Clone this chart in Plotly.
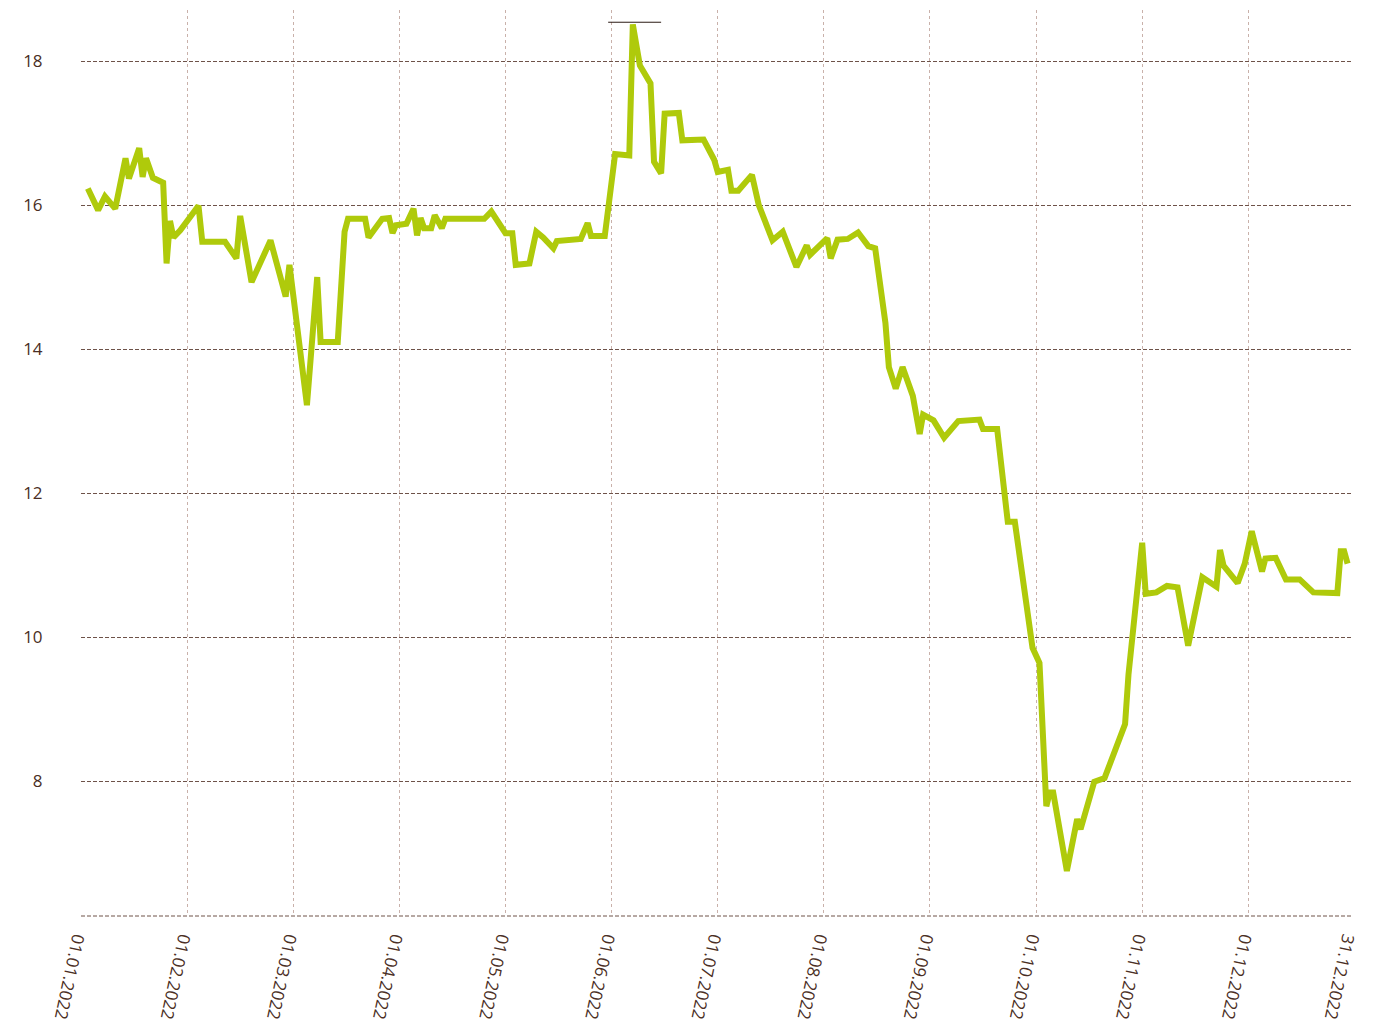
import calendar
import plotly.graph_objects as go

# ---- data ----
dates = [
    "2022-01-03", "2022-01-06", "2022-01-08", "2022-01-11", "2022-01-14", "2022-01-15",
    "2022-01-18", "2022-01-19", "2022-01-20", "2022-01-22", "2022-01-25", "2022-01-26",
    "2022-01-27", "2022-01-28", "2022-01-30",
    "2022-02-04", "2022-02-05", "2022-02-11", "2022-02-14", "2022-02-15", "2022-02-18",
    "2022-02-20", "2022-02-23", "2022-02-27", "2022-02-28",
    "2022-03-01", "2022-03-05", "2022-03-08", "2022-03-09", "2022-03-14", "2022-03-16",
    "2022-03-17", "2022-03-22", "2022-03-23", "2022-03-27", "2022-03-29", "2022-03-30",
    "2022-03-31",
    "2022-04-03", "2022-04-05", "2022-04-06", "2022-04-07", "2022-04-08", "2022-04-10",
    "2022-04-11", "2022-04-13", "2022-04-14", "2022-04-25", "2022-04-27",
    "2022-05-01", "2022-05-03", "2022-05-04", "2022-05-08", "2022-05-10", "2022-05-12",
    "2022-05-15", "2022-05-16", "2022-05-23", "2022-05-25", "2022-05-26", "2022-05-30",
    "2022-06-02", "2022-06-06", "2022-06-07", "2022-06-09", "2022-06-12", "2022-06-13",
    "2022-06-15", "2022-06-16", "2022-06-20", "2022-06-21", "2022-06-27", "2022-06-29",
    "2022-06-30",
    "2022-07-01", "2022-07-04", "2022-07-05", "2022-07-07", "2022-07-11", "2022-07-13",
    "2022-07-17", "2022-07-20", "2022-07-24", "2022-07-27", "2022-07-28",
    "2022-08-02", "2022-08-03", "2022-08-05", "2022-08-08", "2022-08-11", "2022-08-14",
    "2022-08-16", "2022-08-19", "2022-08-20", "2022-08-22", "2022-08-24", "2022-08-27",
    "2022-08-29", "2022-08-30",
    "2022-09-02", "2022-09-05", "2022-09-09", "2022-09-15", "2022-09-16", "2022-09-20",
    "2022-09-23", "2022-09-25", "2022-09-29", "2022-09-30",
    "2022-10-02", "2022-10-04", "2022-10-05", "2022-10-06", "2022-10-10", "2022-10-13",
    "2022-10-14", "2022-10-18", "2022-10-21", "2022-10-27", "2022-10-28",
    "2022-11-01", "2022-11-02", "2022-11-05", "2022-11-08", "2022-11-11", "2022-11-14",
    "2022-11-18", "2022-11-22", "2022-11-23", "2022-11-24", "2022-11-28", "2022-11-30",
    "2022-12-02", "2022-12-05", "2022-12-06", "2022-12-09", "2022-12-12", "2022-12-16",
    "2022-12-20", "2022-12-27", "2022-12-28", "2022-12-29", "2022-12-30",
]
values = [
    16.23, 15.93, 16.12, 15.95, 16.65, 16.37,
    16.79, 16.39, 16.65, 16.38, 16.31, 15.19,
    15.78, 15.55, 15.65,
    15.99, 15.49, 15.49, 15.26, 15.85, 14.93,
    15.17, 15.51, 14.73, 15.17,
    14.75, 13.22, 15.00, 14.10, 14.10, 15.63,
    15.81, 15.81, 15.55, 15.81, 15.82, 15.61,
    15.72,
    15.74, 15.95, 15.58, 15.82, 15.68, 15.68,
    15.86, 15.68, 15.81, 15.81, 15.91,
    15.61, 15.61, 15.17, 15.19, 15.63, 15.55,
    15.40, 15.50, 15.53, 15.75, 15.57, 15.57,
    16.71, 16.69, 18.51, 17.94, 17.69, 16.60,
    16.44, 17.27, 17.28, 16.90, 16.91, 16.73,
    16.63,
    16.46, 16.49, 16.20, 16.20, 16.42, 16.00,
    15.51, 15.63, 15.14, 15.44, 15.31,
    15.54, 15.26, 15.52, 15.53, 15.62, 15.43,
    15.40, 14.36, 13.75, 13.45, 13.75, 13.35,
    12.82, 13.09,
    13.01, 12.77, 13.00, 13.02, 12.89, 12.89,
    11.60, 11.60, 10.07, 9.85,
    9.64, 7.65, 7.84, 7.84, 6.75, 7.47,
    7.33, 7.99, 8.04, 8.79, 9.48,
    11.31, 10.60, 10.62, 10.71, 10.69, 9.88,
    10.83, 10.70, 11.21, 10.99, 10.75, 11.02,
    11.47, 10.91, 11.09, 11.10, 10.80, 10.80,
    10.62, 10.61, 11.19, 11.19, 11.02,
]
tick_dates = [
    "2022-01-01", "2022-02-01", "2022-03-01", "2022-04-01", "2022-05-01", "2022-06-01",
    "2022-07-01", "2022-08-01", "2022-09-01", "2022-10-01", "2022-11-01", "2022-12-01",
    "2022-12-31",
]
y_ticks = [8, 10, 12, 14, 16, 18]
max_marker_dates = ["2022-05-31", "2022-06-15"]

# ---- scale: months are evenly spaced on the axis ----
def pos(d):
    y, m, dd = map(int, d.split("-"))
    return (m - 1) + (dd - 1) / calendar.monthrange(y, m)[1]

def fmt(d):
    y, m, dd = d.split("-")
    return f"{dd}.{m}.{y}"

LINE = "#afca0b"
TEXT = "#4a2e24"

fig = go.Figure()
fig.add_trace(go.Scatter(
    x=[pos(d) for d in dates], y=values, mode="lines",
    line=dict(color=LINE, width=6), hoverinfo="skip", showlegend=False,
))

x_range = [pos(tick_dates[0]), pos(tick_dates[-1])]

fig.update_layout(
    width=1365, height=1022,
    margin=dict(l=73, r=22, t=2, b=114),
    paper_bgcolor="white", plot_bgcolor="white",
    font=dict(family="Open Sans", size=17, color=TEXT),
    xaxis=dict(
        range=x_range, tickmode="array",
        tickvals=[pos(d) for d in tick_dates],
        ticktext=[fmt(d) for d in tick_dates],
        tickangle=102, showgrid=True, gridcolor="#c9b1aa", griddash="3px,3px",
        gridwidth=1, zeroline=False, showline=False,
        ticks="outside", ticklen=6, tickcolor="rgba(0,0,0,0)",
        tickfont=dict(size=17, color=TEXT),
    ),
    yaxis=dict(
        range=[6.125, 18.71], tickmode="array", tickvals=y_ticks,
        ticktext=[str(v) for v in y_ticks],
        showgrid=True, gridcolor="#6e5249", griddash="4px,2px", gridwidth=1,
        zeroline=False, showline=False,
        ticks="outside", ticklen=34, tickcolor="rgba(0,0,0,0)",
        tickfont=dict(size=17, color=TEXT),
    ),
)

# dashed base line along the bottom of the plot area
fig.add_shape(type="line", xref="paper", yref="paper", x0=0, x1=1, y0=0, y1=0,
              line=dict(color="#6e5249", width=1, dash="4px,2px"))
# maximum marker line
fig.add_shape(type="line", xref="x", yref="y",
              x0=pos(max_marker_dates[0]), x1=pos(max_marker_dates[1]),
              y0=max(values) + 0.03, y1=max(values) + 0.03,
              line=dict(color="#2a1a14", width=1))

fig.write_html("out.html")
